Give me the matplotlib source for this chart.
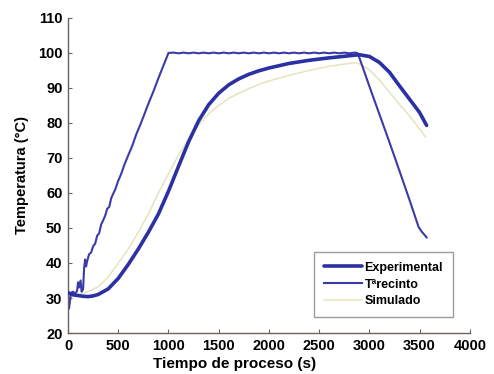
import matplotlib
matplotlib.use("Agg")
import matplotlib.pyplot as plt

# Process time (s) and measured product temperature (°C)
t_exp = [0, 50, 100, 150, 200, 250, 300, 400, 500, 600, 700, 800, 900, 1000,
         1100, 1200, 1300, 1400, 1500, 1600, 1700, 1800, 1900, 2000, 2200,
         2400, 2600, 2800, 2900, 3000, 3100, 3200, 3300, 3400, 3500, 3570]
T_exp = [31.5, 30.9, 30.7, 30.5, 30.4, 30.6, 31.0, 32.6, 35.6, 39.6, 44.0,
         48.8, 54.0, 60.5, 67.6, 74.6, 80.6, 85.2, 88.5, 90.9, 92.6, 93.9,
         94.9, 95.7, 97.0, 97.9, 98.6, 99.2, 99.5, 99.0, 97.3, 94.5, 90.6,
         86.8, 83.0, 79.3]

# Chamber (recinto) temperature
t_rec = [0, 10, 30, 50, 70, 90, 100, 110, 125, 135, 150, 160, 170, 180, 190,
         210, 230, 250, 270, 290, 310, 330, 350, 370, 390, 410, 430, 450, 470,
         500, 530, 560, 600, 640, 680, 720, 760, 800, 850, 900, 950, 1000,
         1050, 1100, 1150, 1200, 1250, 1300, 1350, 1400, 1450, 1500, 1550,
         1600, 1650, 1700, 1750, 1800, 1850, 1900, 1950, 2000, 2050, 2100,
         2150, 2200, 2250, 2300, 2350, 2400, 2450, 2500, 2550, 2600, 2650,
         2700, 2750, 2800, 2850, 2880, 2900, 3000, 3100, 3200, 3300, 3400,
         3490, 3520, 3550, 3570]
T_rec = [31.0, 27.0, 31.5, 31.8, 31.2, 32.0, 34.5, 33.0, 35.0, 31.8, 32.5,
         38.5, 41.0, 39.0, 40.5, 42.5, 43.0, 44.8, 45.5, 47.8, 48.5, 51.0,
         52.2, 53.5, 55.5, 56.0, 58.5, 59.8, 61.0, 63.5, 65.5, 68.0, 70.8,
         73.5, 76.8, 79.5, 82.5, 85.5, 89.0, 92.8, 96.4, 100.0,
         100.1, 99.9, 100.1, 99.9, 100.1, 99.9, 100.1, 99.9, 100.1, 99.9,
         100.1, 99.9, 100.1, 99.9, 100.1, 99.9, 100.1, 99.9, 100.1, 99.9,
         100.1, 99.9, 100.1, 99.9, 100.1, 99.9, 100.1, 99.9, 100.1, 99.9,
         100.1, 99.9, 100.1, 99.9, 100.1, 99.9, 100.1, 100.0, 98.7, 90.5,
         82.5, 74.5, 66.3, 58.0, 50.3, 49.0, 48.0, 47.3]

# Simulated product temperature
t_sim = [0, 100, 200, 300, 400, 500, 600, 700, 800, 900, 1000, 1100, 1200,
         1300, 1400, 1500, 1600, 1700, 1800, 1900, 2000, 2200, 2400, 2600,
         2800, 2850, 2900, 3000, 3100, 3200, 3300, 3400, 3500, 3560]
T_sim = [31.0, 31.0, 31.8, 33.2, 36.0, 40.0, 44.0, 48.8, 54.0, 60.0, 65.5,
         70.8, 75.4, 79.4, 82.6, 85.0, 87.0, 88.5, 89.8, 91.0, 92.0, 93.6,
         95.0, 96.2, 97.0, 97.2, 96.9, 95.2, 92.3, 88.8, 85.3, 82.0, 78.3,
         76.0]

x_ticks = [0, 500, 1000, 1500, 2000, 2500, 3000, 3500, 4000]
y_ticks = [20, 30, 40, 50, 60, 70, 80, 90, 100, 110]

plt.rcParams['font.family'] = ['Liberation Sans', 'DejaVu Sans']
plt.rcParams['font.weight'] = 'bold'

fig = plt.figure(figsize=(4.94, 3.74), dpi=100)
ax = fig.add_axes([0.1377, 0.1096, 0.8133, 0.8424])

spine_col = '#6e625c'
ax.plot(t_exp, T_exp, color='#2b30a3', lw=2.6, label='Experimental',
        solid_capstyle='round', zorder=3)
ax.plot(t_rec, T_rec, color='#3c3aa8', lw=1.5, label='T\u00aarecinto',
        zorder=2)
ax.plot(t_sim, T_sim, color='#e6e4bc', lw=1.1, label='Simulado', zorder=1)

ax.set_xlim(0, 4000)
ax.set_ylim(20, 110)
ax.set_xticks(x_ticks)
ax.set_yticks(y_ticks)
ax.tick_params(direction='in', length=3, width=0.8, color=spine_col,
               labelsize=10.5)
ax.tick_params(axis='x', pad=4)
ax.tick_params(axis='y', pad=4)
for lab in ax.get_xticklabels() + ax.get_yticklabels():
    lab.set_fontweight('bold')

for side in ('top', 'right'):
    ax.spines[side].set_visible(False)
for side in ('left', 'bottom'):
    ax.spines[side].set_color(spine_col)
    ax.spines[side].set_linewidth(1.0)

ax.set_xlabel('Tiempo de proceso (s)', fontsize=11, fontweight='bold')
ax.xaxis.set_label_coords(0.415, -0.076)
ax.set_ylabel('Temperatura (\u00b0C)', fontsize=10.5, fontweight='bold')
ax.yaxis.set_label_coords(-0.097, 0.5)

leg = ax.legend(loc='lower right', bbox_to_anchor=(0.958, 0.05),
                fontsize=9, frameon=True, fancybox=False,
                handlelength=3.0, handletextpad=0.2, borderpad=0.8,
                labelspacing=0.38, borderaxespad=0)
leg.get_frame().set_edgecolor('#8a8480')
leg.get_frame().set_linewidth(1.0)
for txt in leg.get_texts():
    txt.set_fontweight('bold')

fig.savefig('out.png', dpi=100, facecolor='white')
